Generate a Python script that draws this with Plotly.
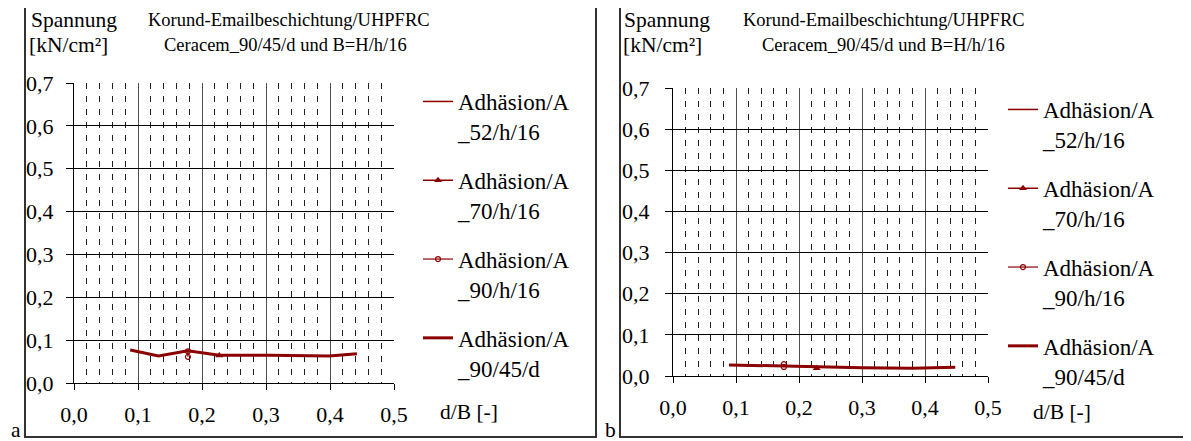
import plotly.graph_objects as go

# page body has an 8px margin: figure is offset by (8, 8) on screen
OFF = 8
W, H = 1183, 433
def px(x): return (x - OFF) / W
def py(y): return 1 - (y - OFF) / H

FONT = "Liberation Serif"
RED = "#8B0000"

# ---------------- data ----------------
series_names = ["Adhäsion/A<br>_52/h/16", "Adhäsion/A<br>_70/h/16",
                "Adhäsion/A<br>_90/h/16", "Adhäsion/A<br>_90/45/d"]

# panel a
a_52_x = [0.088, 0.132]
a_52_y = [0.077, 0.063]
a_70_x = [0.227]
a_70_y = [0.064]
a_90_x = [0.178, 0.178]
a_90_y = [0.061, 0.074]
a_9045_x = [0.088, 0.132, 0.178, 0.227, 0.305, 0.399, 0.442]
a_9045_y = [0.077, 0.063, 0.075, 0.065, 0.065, 0.063, 0.068]

# panel b
b_52_x = [0.089, 0.176]
b_52_y = [0.027, 0.024]
b_70_x = [0.228]
b_70_y = [0.019]
b_90_x = [0.176, 0.176]
b_90_y = [0.022, 0.029]
b_9045_x = [0.089, 0.176, 0.228, 0.300, 0.380, 0.448]
b_9045_y = [0.027, 0.024, 0.021, 0.020, 0.019, 0.021]

x_ticks = [0.0, 0.1, 0.2, 0.3, 0.4, 0.5]
y_ticks = [0.0, 0.1, 0.2, 0.3, 0.4, 0.5, 0.6, 0.7]

fig = go.Figure()

def add_panel(xa, ya, leg, d52, d70, d90, d9045):
    styles = [
        dict(mode="lines", line=dict(color=RED, width=1.5)),
        dict(mode="lines+markers", line=dict(color=RED, width=1.5),
             marker=dict(symbol="triangle-up", size=7, color=RED)),
        dict(mode="lines+markers", line=dict(color=RED, width=1.2),
             marker=dict(symbol="circle-open", size=5, color=RED, line=dict(width=1.2))),
        dict(mode="lines", line=dict(color=RED, width=3)),
    ]
    for i, (d, st) in enumerate(zip([d52, d70, d90, d9045], styles)):
        fig.add_trace(go.Scatter(x=d[0], y=d[1], name=series_names[i],
                                 xaxis=xa, yaxis=ya, legend=leg,
                                 legendgroup=f"{leg}{i}", **st))

add_panel("x", "y", "legend", (a_52_x, a_52_y), (a_70_x, a_70_y),
          (a_90_x, a_90_y), (a_9045_x, a_9045_y))
add_panel("x2", "y2", "legend2", (b_52_x, b_52_y), (b_70_x, b_70_y),
          (b_90_x, b_90_y), (b_9045_x, b_9045_y))

TICKFONT = dict(family=FONT, size=22, color="black")

def xaxis_cfg(x0, x1):
    return dict(domain=[px(x0), px(x1)], range=[0, 0.5], tickvals=x_ticks,
                tickformat=".1f", showgrid=True, gridcolor="#505050", gridwidth=1,
                minor=dict(dtick=0.02, tick0=0, showgrid=True, gridcolor="#202020",
                           griddash="6px,7px", gridwidth=1),
                showline=True, linecolor="black", linewidth=1.2,
                ticks="outside", ticklen=6, tickcolor="black",
                zeroline=False, tickfont=TICKFONT,
                ticklabelstandoff=5, fixedrange=True, automargin=False)

def yaxis_cfg(y0, y1, anchor, standoff):
    return dict(domain=[py(y0), py(y1)], range=[0, 0.7], tickvals=y_ticks,
                tickformat=".1f", showgrid=True, gridcolor="black", gridwidth=1,
                showline=True, linecolor="black", linewidth=1.2,
                ticks="outside", ticklen=7, tickcolor="black",
                zeroline=False, tickfont=TICKFONT,
                ticklabelstandoff=standoff, anchor=anchor, fixedrange=True,
                automargin=False)

LEGFONT = dict(family=FONT, size=23, color="black")

fig.update_layout(
    width=W, height=H, margin=dict(l=0, r=0, t=0, b=0, autoexpand=False),
    paper_bgcolor="white", plot_bgcolor="white",
    separators=",.",
    font=dict(family=FONT, size=21, color="black"),
    xaxis=xaxis_cfg(74, 394) | dict(anchor="y"),
    yaxis=yaxis_cfg(383, 83, "x", 8),
    xaxis2=xaxis_cfg(673, 988) | dict(anchor="y2"),
    yaxis2=yaxis_cfg(376, 88, "x2", 11),
    legend=dict(x=px(418), y=py(80), xanchor="left", yanchor="top",
                font=LEGFONT, tracegroupgap=16, valign="top",
                bgcolor="rgba(0,0,0,0)", itemwidth=30),
    legend2=dict(x=px(1003), y=py(88), xanchor="left", yanchor="top",
                 font=LEGFONT, tracegroupgap=16, valign="top",
                 bgcolor="rgba(0,0,0,0)", itemwidth=30),
    showlegend=True,
)

# panel frames
fig.add_shape(type="rect", xref="paper", yref="paper",
              x0=px(25), x1=px(596), y0=py(437), y1=py(7),
              line=dict(color="#333333", width=2))
fig.add_shape(type="rect", xref="paper", yref="paper",
              x0=px(620), x1=px(1186), y0=py(437), y1=py(7),
              line=dict(color="#333333", width=2))

def txt(x, y, s, size=21.5, anchor="left"):
    fig.add_annotation(x=px(x), y=py(y), xref="paper", yref="paper", text=s,
                       showarrow=False, xanchor=anchor, yanchor="middle",
                       font=dict(family=FONT, size=size, color="black"))

# panel a texts
txt(29, 20, "Spannung")
txt(146, 20, "Korund-Emailbeschichtung/UHPFRC", 18.5)
txt(27, 45, "[kN/cm²]")
txt(162, 45, "Ceracem_90/45/d und B=H/h/16", 18.5)
txt(438, 412, "d/B [-]")
txt(9, 430, "a")
# panel b texts
txt(622, 20, "Spannung")
txt(741, 20, "Korund-Emailbeschichtung/UHPFRC", 18.5)
txt(621, 45, "[kN/cm²]")
txt(760, 45, "Ceracem_90/45/d und B=H/h/16", 18.5)
txt(1031, 412, "d/B [-]")
txt(603, 430, "b")

fig.write_html("out.html")
